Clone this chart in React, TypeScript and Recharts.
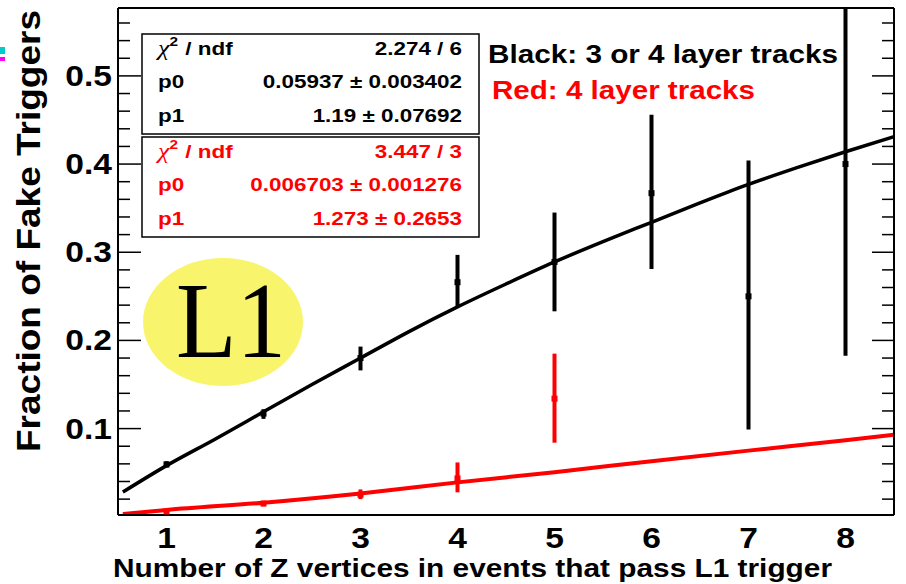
import React from 'react';
import { ComposedChart, Line, Scatter, ErrorBar, XAxis, YAxis } from 'recharts';

// axis ticks
const xMajor = [1, 2, 3, 4, 5, 6, 7, 8];
const xMinor = [0.6, 0.8, 1.2, 1.4, 1.6, 1.8, 2.2, 2.4, 2.6, 2.8, 3.2, 3.4, 3.6, 3.8, 4.2, 4.4, 4.6, 4.8,
    5.2, 5.4, 5.6, 5.8, 6.2, 6.4, 6.6, 6.8, 7.2, 7.4, 7.6, 7.8, 8.2, 8.4];
const yMajor = [0.1, 0.2, 0.3, 0.4, 0.5];
const yMinor = [0.02, 0.04, 0.06, 0.08, 0.12, 0.14, 0.16, 0.18, 0.22, 0.24, 0.26, 0.28,
    0.32, 0.34, 0.36, 0.38, 0.42, 0.44, 0.46, 0.48, 0.52, 0.54, 0.56];

// black: 3 or 4 layer tracks
const blackX = [1, 2, 3, 4, 5, 6, 7, 8];
const blackY = [0.0593, 0.117, 0.180, 0.266, 0.289, 0.367, 0.250, 0.400];
const blackLo = [0.056, 0.111, 0.166, 0.238, 0.233, 0.281, 0.099, 0.1825];
const blackHi = [0.063, 0.122, 0.193, 0.297, 0.345, 0.456, 0.404, 0.577];

// red: 4 layer tracks
const redX = [1, 2, 3, 4, 5];
const redY = [0.006, 0.015, 0.025, 0.0435, 0.134];
const redLo = [0.004, 0.012, 0.020, 0.0277, 0.084];
const redHi = [0.008, 0.018, 0.031, 0.0616, 0.185];

// fitted curves
const blackFitX = [0.55, 1, 1.5, 2, 2.5, 3, 3.5, 4, 4.5, 5, 5.5, 6, 6.5, 7, 7.5, 8, 8.5];
const blackFitY = [0.028, 0.058, 0.088, 0.119, 0.15, 0.18, 0.21, 0.238, 0.264, 0.289, 0.312, 0.334,
    0.356, 0.377, 0.396, 0.414, 0.431];
const redFitX = [0.55, 1, 2, 3, 4, 5, 6, 7, 8, 8.5];
const redFitY = [0.003, 0.0077, 0.016, 0.0265, 0.039, 0.0506, 0.063, 0.075, 0.0868, 0.093];

const blackPts = blackX.map((x, i) => ({ x, y: blackY[i], err: [blackY[i] - blackLo[i], blackHi[i] - blackY[i]] }));
const redPts = redX.map((x, i) => ({ x, y: redY[i], err: [redY[i] - redLo[i], redHi[i] - redY[i]] }));
const blackFit = blackFitX.map((x, i) => ({ x, y: blackFitY[i] }));
const redFit = redFitX.map((x, i) => ({ x, y: redFitY[i] }));

const FONT = '"Liberation Sans", Arial, Helvetica, sans-serif';
const RED = '#ff0000';

const XTick = (props: any) => (
    <g transform={`translate(${props.x},${props.y + 33}) scale(1.12,1)`}>
        <text textAnchor="middle" fontFamily={FONT} fontWeight="bold" fontSize={30} fill="#000">
            {props.payload.value}
        </text>
    </g>
);

const YTick = (props: any) => (
    <g transform={`translate(${props.x - 6},${props.y + 10}) scale(1.12,1)`}>
        <text textAnchor="end" fontFamily={FONT} fontWeight="bold" fontSize={30} fill="#000">
            {props.payload.value.toFixed(1)}
        </text>
    </g>
);

// tick marks only, no labels
const NoLabel = () => <g />;

const square = (color: string) => (props: any) => (
    <rect x={props.cx - 3} y={props.cy - 3} width={6} height={6} fill={color} />
);

const StatText = ({ x, y, anchor, color, children }: any) => (
    <g transform={`translate(${x},${y}) scale(1.18,1)`}>
        <text textAnchor={anchor} fontFamily={FONT} fontWeight="bold" fontSize={19} fill={color}>
            {children}
        </text>
    </g>
);

const Chi = ({ y, color }: any) => (
    <g transform={`translate(158,${y}) scale(1.18,1)`}>
        <text fontSize={22} fill={color}>
            <tspan fontFamily='"Liberation Serif", serif' fontStyle="italic">χ</tspan>
            <tspan fontFamily={FONT} fontWeight="bold" fontSize={13} dy={-9}>2</tspan>
            <tspan fontFamily={FONT} fontWeight="bold" fontSize={19} dy={9} dx={1}> / ndf</tspan>
        </text>
    </g>
);

const StatBox = ({ top, color, chi, p0, p1 }: any) => (
    <g>
        <rect x={142} y={top} width={337} height={100} fill="#fff" stroke="#000" strokeWidth={1.5} />
        <Chi y={top + 21} color={color} />
        <StatText x={462} y={top + 21} anchor="end" color={color}>{chi}</StatText>
        <StatText x={158} y={top + 54} anchor="start" color={color}>p0</StatText>
        <StatText x={462} y={top + 54} anchor="end" color={color}>{p0}</StatText>
        <StatText x={158} y={top + 88} anchor="start" color={color}>p1</StatText>
        <StatText x={462} y={top + 88} anchor="end" color={color}>{p1}</StatText>
    </g>
);

const tickAxisProps = { type: 'number' as const, allowDataOverflow: true, mirror: true, tick: <NoLabel />, interval: 0 as const };
const frameLine = { stroke: '#000', strokeWidth: 2 };
const tickLine = { stroke: '#000', strokeWidth: 1.5 };

export default function App() {
    return (
        <div style={{ position: 'absolute', left: 0, top: 0, width: 906, height: 584, background: '#fff' }}>
            <ComposedChart width={906} height={584} margin={{ top: 8, right: 12, left: 0, bottom: 0 }}>
                <XAxis xAxisId="lab" dataKey="x" type="number" domain={[0.5, 8.5]} allowDataOverflow
                    ticks={xMajor} interval={0} height={69} tickSize={0} tickMargin={0}
                    axisLine={false} tickLine={false} tick={<XTick />} />
                <XAxis xAxisId="bMaj" orientation="bottom" domain={[0.5, 8.5]} ticks={xMajor} height={1}
                    tickSize={16} axisLine={frameLine} tickLine={tickLine} {...tickAxisProps} />
                <XAxis xAxisId="bMin" orientation="bottom" domain={[0.5, 8.5]} ticks={xMinor} height={1}
                    tickSize={8} axisLine={false} tickLine={tickLine} {...tickAxisProps} />
                <XAxis xAxisId="tMaj" orientation="top" domain={[0.5, 8.5]} ticks={xMajor} height={1}
                    tickSize={16} axisLine={frameLine} tickLine={tickLine} {...tickAxisProps} />
                <XAxis xAxisId="tMin" orientation="top" domain={[0.5, 8.5]} ticks={xMinor} height={1}
                    tickSize={8} axisLine={false} tickLine={tickLine} {...tickAxisProps} />

                <YAxis yAxisId="lab" type="number" domain={[0.002, 0.577]} allowDataOverflow
                    ticks={yMajor} interval={0} width={118} tickSize={0} tickMargin={0}
                    axisLine={false} tickLine={false} tick={<YTick />} />
                <YAxis yAxisId="lMaj" orientation="left" domain={[0.002, 0.577]} ticks={yMajor} width={1}
                    tickSize={23} axisLine={frameLine} tickLine={tickLine} {...tickAxisProps} />
                <YAxis yAxisId="lMin" orientation="left" domain={[0.002, 0.577]} ticks={yMinor} width={1}
                    tickSize={11} axisLine={false} tickLine={tickLine} {...tickAxisProps} />
                <YAxis yAxisId="rMaj" orientation="right" domain={[0.002, 0.577]} ticks={yMajor} width={1}
                    tickSize={22} axisLine={frameLine} tickLine={tickLine} {...tickAxisProps} />
                <YAxis yAxisId="rMin" orientation="right" domain={[0.002, 0.577]} ticks={yMinor} width={1}
                    tickSize={11} axisLine={false} tickLine={tickLine} {...tickAxisProps} />

                <Line xAxisId="lab" yAxisId="lab" data={redFit} dataKey="y" type="monotone" stroke={RED}
                    strokeWidth={4} dot={false} isAnimationActive={false} />
                <Line xAxisId="lab" yAxisId="lab" data={blackFit} dataKey="y" type="monotone" stroke="#000"
                    strokeWidth={3.5} dot={false} isAnimationActive={false} />
                <Scatter xAxisId="lab" yAxisId="lab" data={blackPts} dataKey="y" shape={square('#000')}
                    isAnimationActive={false}>
                    <ErrorBar dataKey="err" direction="y" width={0} stroke="#000" strokeWidth={4} />
                </Scatter>
                <Scatter xAxisId="lab" yAxisId="lab" data={redPts} dataKey="y" shape={square(RED)}
                    isAnimationActive={false}>
                    <ErrorBar dataKey="err" direction="y" width={0} stroke={RED} strokeWidth={4} />
                </Scatter>
            </ComposedChart>

            <svg width={906} height={584} style={{ position: 'absolute', left: 0, top: 0, pointerEvents: 'none' }}>
                <rect x={0} y={47} width={5} height={7} fill="#00cccc" />
                <rect x={0} y={57} width={5} height={4} fill="#ff00ff" />

                <text transform="translate(40,231) rotate(-90)" textAnchor="middle" fontFamily={FONT}
                    fontWeight="bold" fontSize={33} textLength={442} lengthAdjust="spacingAndGlyphs">
                    Fraction of Fake Triggers
                </text>
                <text x={113} y={577} fontFamily={FONT} fontWeight="bold" fontSize={26}
                    textLength={719} lengthAdjust="spacingAndGlyphs">
                    Number of Z vertices in events that pass L1 trigger
                </text>

                <StatBox top={34} color="#000" chi="2.274 / 6" p0="0.05937 ± 0.003402" p1="1.19 ± 0.07692" />
                <StatBox top={137} color={RED} chi="3.447 / 3" p0="0.006703 ± 0.001276" p1="1.273 ± 0.2653" />

                <text x={488} y={63} fontFamily={FONT} fontWeight="bold" fontSize={25}
                    textLength={350} lengthAdjust="spacingAndGlyphs">Black: 3 or 4 layer tracks</text>
                <text x={492} y={99} fontFamily={FONT} fontWeight="bold" fontSize={25} fill={RED}
                    textLength={263} lengthAdjust="spacingAndGlyphs">Red: 4 layer tracks</text>

                <ellipse cx={223} cy={322} rx={80} ry={64} fill="#f8f56d" />
                <text x={176} y={357} fontFamily='"Liberation Serif", "Times New Roman", serif' fontSize={108}
                    textLength={110} lengthAdjust="spacingAndGlyphs">L1</text>
            </svg>
        </div>
    );
}
